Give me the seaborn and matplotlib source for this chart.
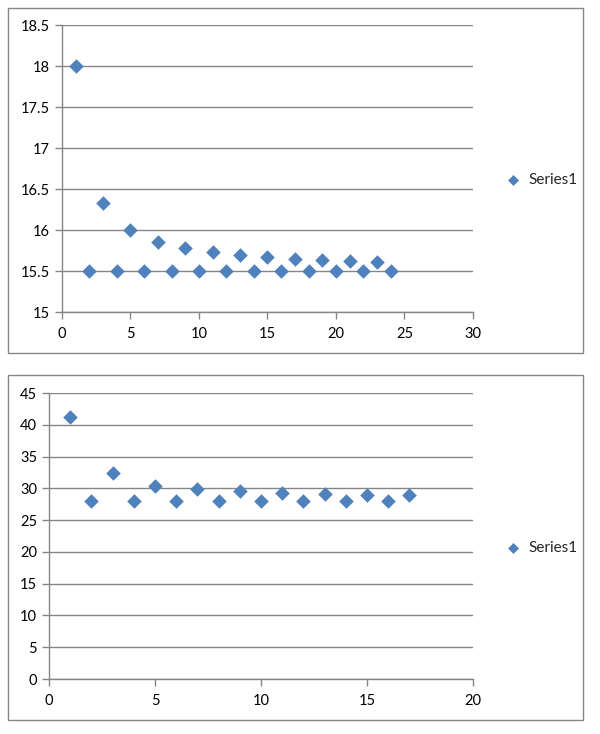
import pandas as pd
import matplotlib.pyplot as plt
import seaborn as sns
from matplotlib.patches import Rectangle
from matplotlib.ticker import FuncFormatter, MultipleLocator

sns.set_style("white")
plt.rcParams['font.family'] = ['Lato', 'DejaVu Sans']

# data
x_top = list(range(1, 25))
y_top = [18.0, 15.5, 16.33, 15.5, 16.0, 15.5, 15.86, 15.5, 15.78, 15.5, 15.73, 15.5,
         15.69, 15.5, 15.67, 15.5, 15.65, 15.5, 15.63, 15.5, 15.62, 15.5, 15.61, 15.5]

x_bot = list(range(1, 18))
y_bot = [41.2, 28.0, 32.35, 28.0, 30.45, 28.0, 29.9, 28.0, 29.6, 28.0, 29.2, 28.0,
         29.1, 28.0, 28.95, 28.0, 28.95]

series_name = "Series1"
blue = "#4F81BD"
grey = "#868686"

fig = plt.figure(figsize=(6, 7.34), dpi=100)

# chart frames
for y0 in [0.519, 0.019]:
    fig.patches.append(Rectangle((0.0133, y0), 0.958, 0.47, transform=fig.transFigure,
                                 fill=False, edgecolor=grey, linewidth=1))

ax1 = fig.add_axes([0.1033, 0.5749, 0.685, 0.391])
ax2 = fig.add_axes([0.0817, 0.0749, 0.7067, 0.3896])

charts = [
    (ax1, x_top, y_top, (0, 30), 5, (15, 18.5), 0.5, 0.755),
    (ax2, x_bot, y_bot, (0, 20), 5, (0, 45), 5, 0.2534),
]

for ax, xs, ys, xlim, xstep, ylim, ystep, leg_y in charts:
    df = pd.DataFrame({"x": xs, "y": ys})
    sns.scatterplot(data=df, x="x", y="y", marker="D", color=blue, s=55,
                    linewidth=0, label=series_name, ax=ax, clip_on=False, zorder=3)
    ax.set_xlim(*xlim)
    ax.set_ylim(*ylim)
    ax.xaxis.set_major_locator(MultipleLocator(xstep))
    ax.yaxis.set_major_locator(MultipleLocator(ystep))
    fmt = FuncFormatter(lambda v, p: f"{v:g}")
    ax.xaxis.set_major_formatter(fmt)
    ax.yaxis.set_major_formatter(fmt)
    ax.set_xlabel("")
    ax.set_ylabel("")
    ax.grid(axis="y", color=grey, linewidth=1)
    ax.set_axisbelow(True)
    for side in ["top", "right"]:
        ax.spines[side].set_visible(False)
    for side in ["left", "bottom"]:
        ax.spines[side].set_color(grey)
        ax.spines[side].set_linewidth(1)
    ax.tick_params(axis="both", direction="out", length=5, color=grey, width=1,
                   labelsize=10.5, labelcolor="black", left=True, bottom=True)
    ax.tick_params(axis="x", pad=6)
    ax.legend(loc="center left", bbox_to_anchor=(0.806, leg_y), bbox_transform=fig.transFigure,
              frameon=False, fontsize=11, handletextpad=0.05, markerscale=0.75)

plt.savefig("out.png", dpi=100)
